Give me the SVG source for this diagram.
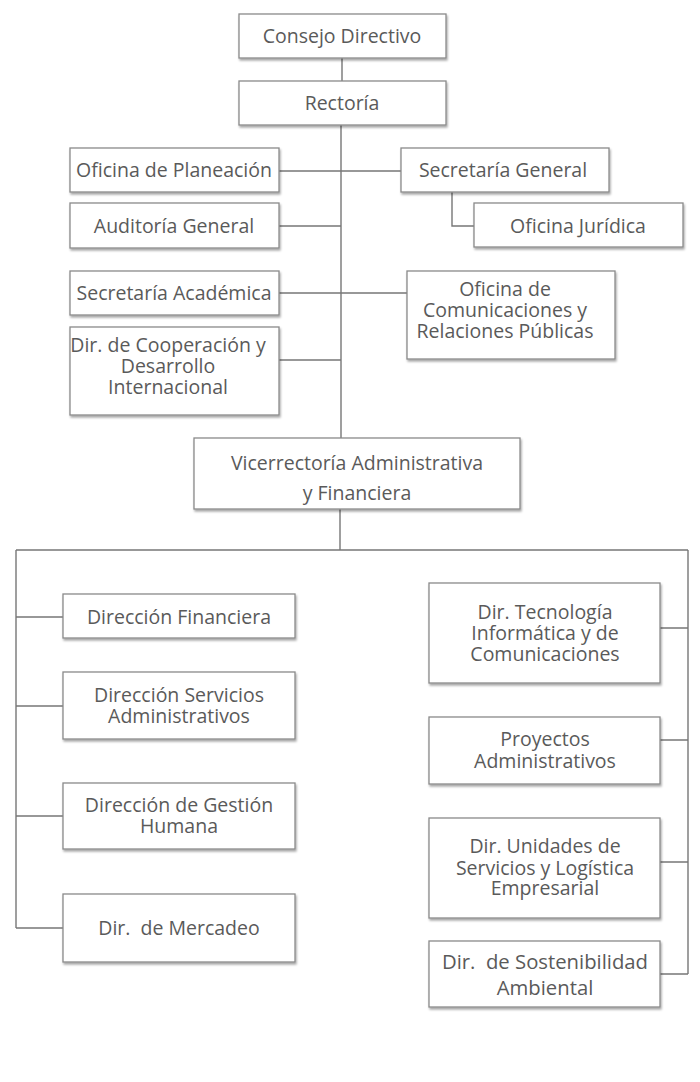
<svg xmlns="http://www.w3.org/2000/svg" width="700" height="1082" viewBox="0 0 700 1082">
<defs>
<filter id="sh" x="-5%" y="-10%" width="112%" height="130%">
<feDropShadow dx="1" dy="2" stdDeviation="1.2" flood-color="#000" flood-opacity="0.35"/>
</filter>
<style>
.box{fill:#fff;stroke:#8a8a8a;stroke-width:1.3;filter:url(#sh)}
.t{font-family:"Open Sans","Liberation Sans",sans-serif;font-size:19.5px;fill:#5a5a5a;text-anchor:middle;font-weight:400}
.big{font-size:20.3px}
.c{fill:none;stroke:#777;stroke-width:1.4}
</style>
</defs>
<rect width="700" height="1082" fill="#fff"/>
<g id="connectors">
<path class="c" d="M342 58V81M341 125V438M279 171H401M279 226H341M279 293H407M279 360H341M452 192V226H474M340 509V550M16 550H688M16 550V928M688 550V974M16 617H63M16 706H63M16 816H63M16 928H63M688 628H660M688 740H660M688 862H660M688 974H660"/>
</g>
<g id="consejo"><rect class="box" x="239" y="14" width="207" height="44"/><text class="t" x="342" y="43">Consejo Directivo</text></g>
<g id="rectoria"><rect class="box" x="239" y="81" width="207" height="44"/><text class="t" x="342" y="110">Rectoría</text></g>
<g id="planeacion"><rect class="box" x="70" y="148" width="209" height="44"/><text class="t" x="174" y="177">Oficina de Planeación</text></g>
<g id="secgeneral"><rect class="box" x="401" y="148" width="208" height="44"/><text class="t" x="503" y="177">Secretaría General</text></g>
<g id="auditoria"><rect class="box" x="70" y="203" width="209" height="45"/><text class="t" x="174" y="233">Auditoría General</text></g>
<g id="juridica"><rect class="box" x="474" y="203" width="209" height="44"/><text class="t" x="578" y="233">Oficina Jurídica</text></g>
<g id="secacademica"><rect class="box" x="70" y="271" width="209" height="44"/><text class="t" x="174" y="300">Secretaría Académica</text></g>
<g id="comunicaciones"><rect class="box" x="407" y="271" width="208" height="88"/><text class="t" x="505" y="296">Oficina de</text><text class="t" x="505" y="317">Comunicaciones y</text><text class="t" x="505" y="338">Relaciones Públicas</text></g>
<g id="cooperacion"><rect class="box" x="70" y="327" width="209" height="88"/><text class="t" x="168" y="352">Dir. de Cooperación y</text><text class="t" x="168" y="373">Desarrollo</text><text class="t" x="168" y="394">Internacional</text></g>
<g id="vicerrectoria"><rect class="box" x="194" y="438" width="326" height="71"/><text class="t" x="357" y="470">Vicerrectoría Administrativa</text><text class="t" x="357" y="500">y Financiera</text></g>
<g id="financiera"><rect class="box" x="63" y="594" width="232" height="44"/><text class="t" x="179" y="624">Dirección Financiera</text></g>
<g id="servicios"><rect class="box" x="63" y="672" width="232" height="67"/><text class="t" x="179" y="702">Dirección Servicios</text><text class="t" x="179" y="723">Administrativos</text></g>
<g id="gestion"><rect class="box" x="63" y="783" width="232" height="66"/><text class="t" x="179" y="812">Dirección de Gestión</text><text class="t" x="179" y="833">Humana</text></g>
<g id="mercadeo"><rect class="box" x="63" y="894" width="232" height="68"/><text class="t" x="179" y="935">Dir.&#160; de Mercadeo</text></g>
<g id="tecnologia"><rect class="box" x="429" y="583" width="231" height="100"/><text class="t" x="545" y="619">Dir. Tecnología</text><text class="t" x="545" y="640">Informática y de</text><text class="t" x="545" y="661">Comunicaciones</text></g>
<g id="proyectos"><rect class="box" x="429" y="717" width="231" height="67"/><text class="t" x="545" y="746">Proyectos</text><text class="t" x="545" y="768">Administrativos</text></g>
<g id="unidades"><rect class="box" x="429" y="818" width="231" height="100"/><text class="t" x="545" y="853">Dir. Unidades de</text><text class="t" x="545" y="875">Servicios y Logística</text><text class="t" x="545" y="895">Empresarial</text></g>
<g id="sostenibilidad"><rect class="box" x="429" y="941" width="231" height="66"/><text class="t big" x="545" y="969">Dir.&#160; de Sostenibilidad</text><text class="t big" x="545" y="995">Ambiental</text></g>
</svg>
